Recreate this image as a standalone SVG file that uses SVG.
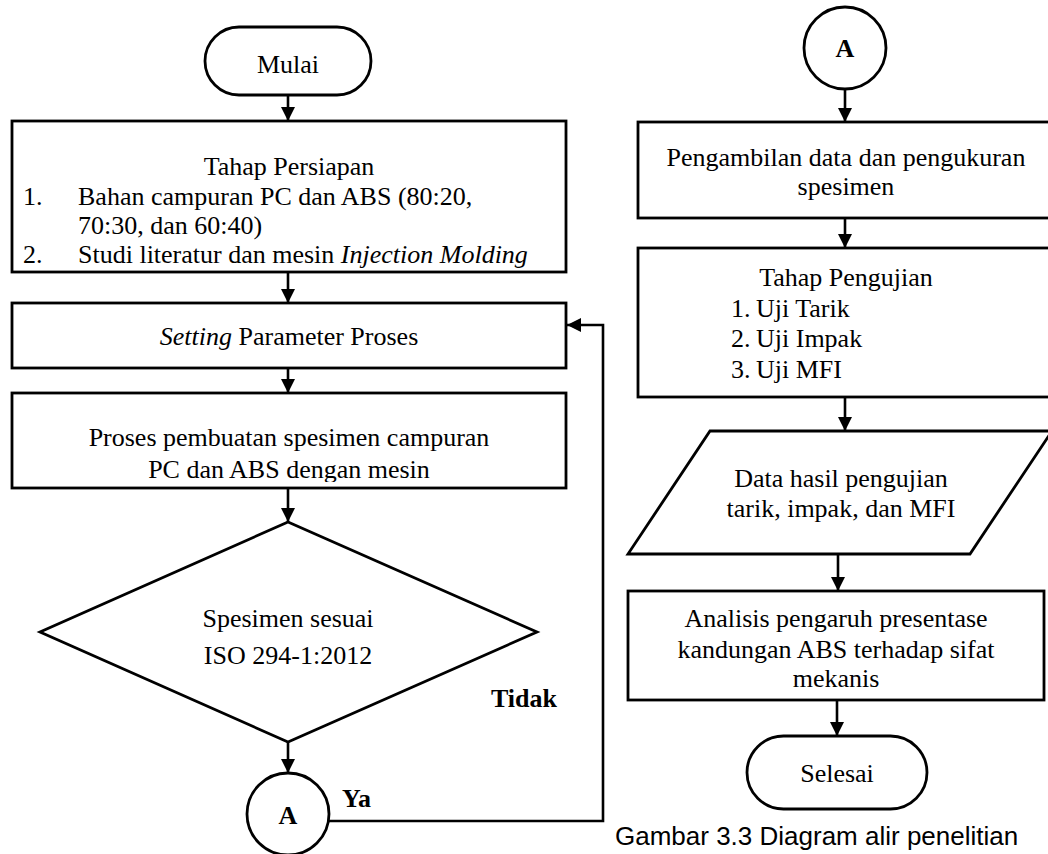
<svg xmlns="http://www.w3.org/2000/svg" width="1048" height="854" viewBox="0 0 1048 854">
  <defs>
    <marker id="arr" markerUnits="userSpaceOnUse" markerWidth="14" markerHeight="14" refX="14" refY="7" orient="auto">
      <path d="M0,0 L14,7 L0,14 z" fill="#000"/>
    </marker>
    <clipPath id="clipProses">
      <rect x="12" y="393" width="554" height="89"/>
    </clipPath>
  </defs>
  <style>
    .shape { fill: #fff; stroke: #000; stroke-width: 2.8; }
    .conn { fill: none; stroke: #000; stroke-width: 2.6; marker-end: url(#arr); }
    .t { font-family: "Liberation Serif", "Times New Roman", serif; font-size: 26px; fill: #000; }
    .c { text-anchor: middle; }
    .b { font-weight: bold; }
    .i { font-style: italic; }
    .cap { font-family: "Liberation Sans", Arial, sans-serif; font-size: 26px; fill: #000; }
  </style>
  <rect width="1048" height="854" fill="#fff"/>

  <g id="connectors">
    <line class="conn" x1="288" y1="95" x2="288" y2="121"/>
    <line class="conn" x1="288" y1="272" x2="288" y2="303"/>
    <line class="conn" x1="288" y1="368" x2="288" y2="393"/>
    <line class="conn" x1="288" y1="488" x2="288" y2="522"/>
    <line class="conn" x1="288" y1="742" x2="288" y2="773"/>
    <polyline class="conn" points="329,821 603,821 603,325 567,325"/>
    <line class="conn" x1="845" y1="89" x2="845" y2="122"/>
    <line class="conn" x1="845" y1="218" x2="845" y2="248"/>
    <line class="conn" x1="845" y1="397" x2="845" y2="431"/>
    <line class="conn" x1="838" y1="554" x2="838" y2="591"/>
    <line class="conn" x1="837" y1="700" x2="837" y2="736"/>
  </g>

  <g id="mulai">
    <rect class="shape" x="205" y="27" width="166" height="68" rx="34" ry="34"/>
    <text class="t c" x="288" y="73">Mulai</text>
  </g>

  <g id="persiapan">
    <rect class="shape" x="12" y="121" width="554" height="151"/>
    <text class="t c" x="289" y="175">Tahap Persiapan</text>
    <text class="t" x="23" y="205">1.</text>
    <text class="t" x="78" y="205">Bahan campuran PC dan ABS (80:20,</text>
    <text class="t" x="78" y="234">70:30, dan 60:40)</text>
    <text class="t" x="23" y="263">2.</text>
    <text class="t" x="78" y="263">Studi literatur dan mesin <tspan class="i">Injection Molding</tspan></text>
  </g>

  <g id="setting">
    <rect class="shape" x="12" y="303" width="554" height="65"/>
    <text class="t c" x="289" y="345"><tspan class="i">Setting</tspan> Parameter Proses</text>
  </g>

  <g id="proses">
    <rect class="shape" x="12" y="393" width="554" height="95"/>
    <g clip-path="url(#clipProses)">
      <text class="t c" x="289" y="446">Proses pembuatan spesimen campuran</text>
      <text class="t c" x="289" y="478">PC dan ABS dengan mesin</text>
    </g>
  </g>

  <g id="decision">
    <polygon class="shape" points="288,522 537,632 288,742 40,632"/>
    <text class="t c" x="288" y="627">Spesimen sesuai</text>
    <text class="t c" x="288" y="664">ISO 294-1:2012</text>
  </g>

  <g id="label-tidak">
    <text class="t b" x="491" y="707">Tidak</text>
  </g>

  <g id="connector-a-out">
    <circle class="shape" cx="288" cy="814" r="41"/>
    <text class="t b c" x="288" y="824">A</text>
  </g>

  <g id="label-ya">
    <text class="t b" x="342" y="807">Ya</text>
  </g>

  <g id="connector-a-in">
    <circle class="shape" cx="845" cy="48" r="41"/>
    <text class="t b c" x="845" y="57">A</text>
  </g>

  <g id="pengambilan">
    <rect class="shape" x="638" y="122" width="420" height="96"/>
    <text class="t c" x="846" y="166">Pengambilan data dan pengukuran</text>
    <text class="t c" x="846" y="195">spesimen</text>
  </g>

  <g id="pengujian">
    <rect class="shape" x="638" y="248" width="420" height="149"/>
    <text class="t c" x="846" y="286">Tahap Pengujian</text>
    <text class="t" x="731" y="317">1.</text>
    <text class="t" x="756" y="317">Uji Tarik</text>
    <text class="t" x="731" y="347">2.</text>
    <text class="t" x="756" y="347">Uji Impak</text>
    <text class="t" x="731" y="378">3.</text>
    <text class="t" x="756" y="378">Uji MFI</text>
  </g>

  <g id="data-hasil">
    <polygon class="shape" points="710,431 1052,431 970,554 628,554"/>
    <text class="t c" x="841" y="487">Data hasil pengujian</text>
    <text class="t c" x="841" y="517">tarik, impak, dan MFI</text>
  </g>

  <g id="analisis">
    <rect class="shape" x="628" y="591" width="416" height="109"/>
    <text class="t c" x="836" y="627">Analisis pengaruh presentase</text>
    <text class="t c" x="836" y="658">kandungan ABS terhadap sifat</text>
    <text class="t c" x="836" y="687">mekanis</text>
  </g>

  <g id="selesai">
    <rect class="shape" x="747" y="736" width="180" height="73" rx="36.5" ry="36.5"/>
    <text class="t c" x="837" y="782">Selesai</text>
  </g>

  <g id="caption">
    <text class="cap" x="615" y="845">Gambar 3.3 Diagram alir penelitian</text>
  </g>
</svg>
